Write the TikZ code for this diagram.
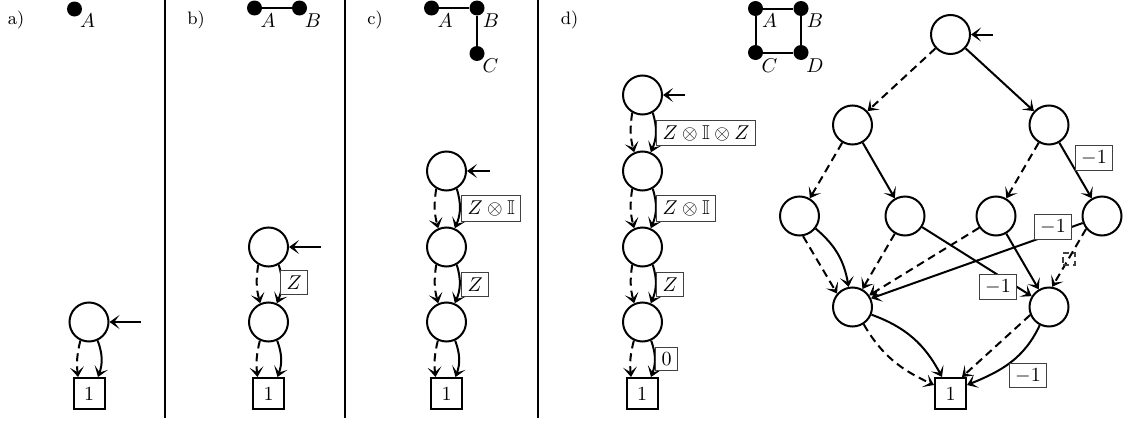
\documentclass[tikz,border=0pt]{standalone}
\usepackage{amssymb}
\usetikzlibrary{arrows.meta}
\begin{document}
\begin{tikzpicture}[x=0.5pt,y=-0.5pt,
 st/.style={circle, draw, line width=1pt, minimum size=19.5pt, inner sep=0pt},
 term/.style={rectangle, draw, line width=1pt, minimum size=15.5pt, inner sep=0pt},
 dot/.style={circle, fill=black, minimum size=7.5pt, inner sep=0pt},
 dlab/.style={inner sep=0pt},
 lab/.style={rectangle, draw=black!75, line width=0.55pt, fill=white, inner xsep=3pt, inner ysep=2.5pt},
 panel/.style={font=\small, inner sep=0pt},
 arr/.style={line width=1pt, -{Stealth[length=5pt,width=7pt,inset=2.6pt]}},
 hi/.style={arr},
 lo/.style={arr, dash pattern=on 4pt off 2.5pt},
 sepline/.style={line width=0.75pt},
 link/.style={line width=1pt}]
\useasboundingbox (0,0) rectangle (1124,423);

% separators
\coordinate (s1t) at (165,0); \coordinate (s1b) at (165,418);
\coordinate (s2t) at (345,0); \coordinate (s2b) at (345,418);
\coordinate (s3t) at (538,0); \coordinate (s3b) at (538,418);
\draw[sepline] (s1t) -- (s1b);
\draw[sepline] (s2t) -- (s2b);
\draw[sepline] (s3t) -- (s3b);

% ---------- panel a ----------
\node[panel] (pa) at (16,20) {a)};
\node[dot] (aA) at (74.5,9) {};
\node[dlab] (aAl) at (87.5,20.5) {$A$};
\node[st] (a1) at (89,322) {};
\node[term] (a0) at (89,393.5) {1};
\coordinate (ain) at (141,322);
\draw[arr] (ain) -- (a1);
\draw[lo] (a1.-115) to[bend right=10] ([xshift=-5.5pt]a0.north);
\draw[hi] (a1.-65) to[bend left=20] ([xshift=4.5pt]a0.north);

% ---------- panel b ----------
\node[panel] (pb) at (196,20) {b)};
\node[dot] (bA) at (254.5,8) {};
\node[dot] (bB) at (299.5,8) {};
\draw[link] (bA) -- (bB);
\node[dlab] (bAl) at (268,20.5) {$A$};
\node[dlab] (bBl) at (313,20.5) {$B$};
\node[st] (b1) at (268.5,247) {};
\node[st] (b2) at (268.5,322) {};
\node[term] (b0) at (268.5,393.5) {1};
\coordinate (bin) at (321,247);
\draw[arr] (bin) -- (b1);
\draw[lo] (b1.-120) to[bend right=12] (b2.114);
\draw[hi] (b1.-60) to[bend left=20] (b2.66);
\draw[lo] (b2.-115) to[bend right=10] ([xshift=-5.5pt]b0.north);
\draw[hi] (b2.-65) to[bend left=20] ([xshift=4.5pt]b0.north);
\node[lab, anchor=west] (bz) at (280,282.5) {$Z$};

% ---------- panel c ----------
\node[panel] (pc) at (375,20) {c)};
\node[dot] (cA) at (431.5,8) {};
\node[dot] (cB) at (477,8) {};
\node[dot] (cC) at (477,53.5) {};
\draw[link] (cA) -- (cB);
\draw[link] (cB) -- (cC);
\node[dlab] (cAl) at (445,21) {$A$};
\node[dlab] (cBl) at (491,20.5) {$B$};
\node[dlab] (cCl) at (490.5,66) {$C$};
\node[st] (c1) at (446.5,171) {};
\node[st] (c2) at (446.5,247) {};
\node[st] (c3) at (446.5,322) {};
\node[term] (c0) at (446.5,393.5) {1};
\coordinate (cin) at (490,171);
\draw[arr] (cin) -- (c1);
\draw[lo] (c1.-120) to[bend right=12] (c2.114);
\draw[hi] (c1.-60) to[bend left=20] (c2.66);
\draw[lo] (c2.-120) to[bend right=12] (c3.114);
\draw[hi] (c2.-60) to[bend left=20] (c3.66);
\draw[lo] (c3.-115) to[bend right=10] ([xshift=-5.5pt]c0.north);
\draw[hi] (c3.-65) to[bend left=20] ([xshift=4.5pt]c0.north);
\node[lab, anchor=west] (czi) at (461,208.5) {$Z\otimes\mathbb{I}$};
\node[lab, anchor=west] (cz) at (461,284.5) {$Z$};

% ---------- panel d : chain ----------
\node[panel] (pd) at (569.5,20) {d)};
\node[st] (d1) at (642.5,95) {};
\node[st] (d2) at (642.5,171) {};
\node[st] (d3) at (642.5,247) {};
\node[st] (d4) at (642.5,322) {};
\node[term] (d0) at (642,393.5) {1};
\coordinate (din) at (685,95);
\draw[arr] (din) -- (d1);
\draw[lo] (d1.-120) to[bend right=12] (d2.114);
\draw[hi] (d1.-60) to[bend left=20] (d2.66);
\draw[lo] (d2.-120) to[bend right=12] (d3.114);
\draw[hi] (d2.-60) to[bend left=20] (d3.66);
\draw[lo] (d3.-120) to[bend right=12] (d4.114);
\draw[hi] (d3.-60) to[bend left=20] (d4.66);
\draw[lo] (d4.-115) to[bend right=10] ([xshift=-5.5pt]d0.north);
\draw[hi] (d4.-65) to[bend left=20] ([xshift=4.5pt]d0.north);
\node[lab, anchor=west] (dzizl) at (656,133) {$Z\otimes\mathbb{I}\otimes Z$};
\node[lab, anchor=west] (dzi) at (656,208.5) {$Z\otimes\mathbb{I}$};
\node[lab, anchor=west] (dz) at (656,284.5) {$Z$};
\node[lab, anchor=west] (dzero) at (655,359) {$0$};

% ---------- panel d : square lattice ----------
\node[dot] (eA) at (755.5,8.5) {};
\node[dot] (eB) at (801,8.5) {};
\node[dot] (eC) at (755.5,52.5) {};
\node[dot] (eD) at (801,52.5) {};
\draw[link] (eA) -- (eB);
\draw[link] (eA) -- (eC);
\draw[link] (eB) -- (eD);
\draw[link] (eC) -- (eD);
\node[dlab] (eAl) at (769.5,21) {$A$};
\node[dlab] (eBl) at (815,20.5) {$B$};
\node[dlab] (eCl) at (769.5,66) {$C$};
\node[dlab] (eDl) at (815,66) {$D$};

% ---------- panel d : graph ----------
\node[st] (r) at (950.5,34.5) {};
\node[st] (l2a) at (852.5,125) {};
\node[st] (l2b) at (1049,125) {};
\node[st] (n1) at (799.5,216) {};
\node[st] (n2) at (905,216) {};
\node[st] (n3) at (996,216) {};
\node[st] (n4) at (1102,216) {};
\node[st] (l4a) at (852.5,307) {};
\node[st] (l4b) at (1049,307) {};
\node[term] (g0) at (950.5,393.5) {1};
\coordinate (gin) at (993,34.5);
\draw[arr] (gin) -- (r);

\draw[lo] (r) -- (l2a);
\draw[hi] (r) -- (l2b);
\draw[lo] (l2a) -- (n1);
\draw[hi] (l2a) -- (n2);
\draw[lo] (l2b) -- (n3);
\draw[hi] (l2b) -- (n4);

\draw[lo] (n1.-80) -- (l4a.139);
\draw[hi] (n1.-38) to[out=-40, in=100] (l4a.101);
\draw[lo] (n2.-120) -- (l4a.61);
\draw[hi] (n2.-33) -- (l4b.148);
\draw[lo] (n3.-145) -- (l4a.35);
\draw[hi] (n3) -- (l4b);
\draw[hi] (n4.-160) -- (l4a.25);
\draw[lo] (n4.-141) -- (l4b.81);

\draw[lo] (l4a.-57) to[out=-60, in=155] ([yshift=4.25pt]g0.west);
\draw[hi] (l4a.-22) to[out=-20, in=118] ([xshift=-4.25pt]g0.north);
\draw[lo] (l4b.-157) -- ([xshift=5.75pt]g0.north);
\draw[hi] (l4b.-117) to[out=-115, in=22] ([yshift=4.25pt]g0.east);

\node[lab] (w1) at (1094,158) {$-1$};
\node[lab] (w2) at (1053,227) {$-1$};
\node[lab] (w3) at (998,287) {$-1$};
\node[lab] (w4) at (1028,375.5) {$-1$};
\node[rectangle, draw=black!75, line width=0.6pt, dash pattern=on 3pt off 2pt, minimum size=6pt, inner sep=0pt] (w5) at (1069,259) {};
\end{tikzpicture}
\end{document}
